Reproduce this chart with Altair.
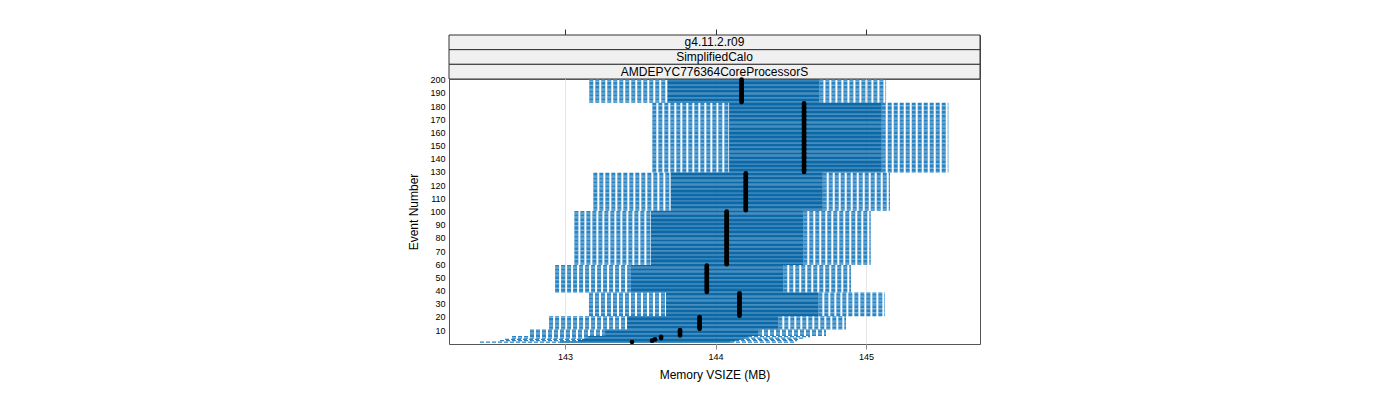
import altair as alt
import pandas as pd

# ---- data (Memory VSIZE in MB) ----
# blocks of consecutive events sharing the same summary values
block_first = [1, 2, 3, 4, 5, 6, 11, 21, 39, 60, 101, 130, 183]
block_last = [1, 2, 3, 4, 5, 10, 20, 38, 59, 100, 129, 182, 200]
whisker_low = [142.435, 142.568, 142.601, 142.648, 142.648, 142.767, 142.894,
               143.159, 142.934, 143.062, 143.188, 143.580, 143.161]
box_low = [142.967, 143.086, 143.113, 143.133, 143.153, 143.266, 143.412,
           143.671, 143.437, 143.571, 143.702, 144.090, 143.680]
median = [143.445, 143.578, 143.598, 143.638, 143.638, 143.764, 143.894,
          144.159, 143.942, 144.074, 144.201, 144.588, 144.173]
box_high = [144.096, 144.130, 144.163, 144.196, 144.216, 144.282, 144.417,
            144.683, 144.450, 144.583, 144.712, 145.104, 144.690]
whisker_high = [144.528, 144.541, 144.561, 144.595, 144.628, 144.734, 144.867,
                145.126, 144.900, 145.031, 145.159, 145.547, 145.133]

strip_labels = ["g4.11.2.r09", "SimplifiedCalo", "AMDEPYC776364CoreProcessorS"]
x_ticks = [143, 144, 145]
y_ticks = list(range(10, 201, 10))
x_domain = [142.229, 145.757]
y_domain = [-0.5, 200.5]

rows = []
for i in range(len(block_first)):
    for ev in range(block_first[i], block_last[i] + 1):
        rows.append({"event": ev, "wlo": whisker_low[i], "q1": box_low[i],
                     "med": median[i], "q3": box_high[i], "whi": whisker_high[i]})
df = pd.DataFrame(rows)

W, H = 531, 265
FONT = "Liberation Sans"

xscale = alt.Scale(domain=x_domain, nice=False, zero=False)
yscale = alt.Scale(domain=y_domain, nice=False, zero=False)

x_axis = alt.Axis(values=x_ticks, format="d", title="Memory VSIZE (MB)", grid=True,
                  gridColor="#e6e6e6", domain=False, tickColor="#888888", tickSize=5,
                  labelFontSize=9, labelPadding=3, labelColor="black",
                  titleFontSize=12, titlePadding=8, titleFontWeight="normal",
                  titleColor="black")
y_axis = alt.Axis(values=y_ticks, title="Event Number", ticks=False, domain=False,
                  grid=False, labelFontSize=9, labelPadding=4, labelColor="black",
                  labelOverlap=False, labelFlush=False, labelBound=False,
                  titleFontSize=12, titlePadding=9, titleFontWeight="normal",
                  titleColor="black")

Y = alt.Y("event:Q", scale=yscale, axis=y_axis)
X = lambda f: alt.X(f, scale=xscale, axis=x_axis)

base = alt.Chart(df)
whisk_col = "#2a84c4"
left = base.mark_rule(color=whisk_col, strokeWidth=1.25, strokeDash=[4, 2]).encode(
    x=X("wlo:Q"), x2="q1:Q", y=Y
)
right = base.mark_rule(color=whisk_col, strokeWidth=1.25, strokeDash=[4, 2]).encode(
    x=X("q3:Q"), x2="whi:Q", y=Y
)
box = base.mark_rule(color="#0b69a8", strokeWidth=1.35).encode(
    x=X("q1:Q"), x2="q3:Q", y=Y
)
med = base.mark_circle(size=22, color="black", opacity=1).encode(
    x=X("med:Q"), y=Y
)
main = alt.layer(left, right, box, med).properties(width=W, height=H)

# ---- lattice-style strips ----
strip_df = pd.DataFrame({"strip": strip_labels})
top_axis = alt.Axis(orient="top", values=x_ticks, labels=False, domain=False,
                    grid=False, tickSize=6, tickColor="#333333", title=None)
strip_y = alt.Y("strip:N", sort=strip_labels,
                scale=alt.Scale(paddingInner=0, paddingOuter=0), axis=None)
rect = alt.Chart(strip_df).mark_rect(fill="#f0f0f0", stroke="#333333", strokeWidth=1).encode(
    x=alt.X(datum=x_domain[0], type="quantitative", scale=xscale, axis=top_axis),
    x2=alt.X2(datum=x_domain[1]),
    y=strip_y,
)
text = alt.Chart(strip_df).mark_text(fontSize=12, color="black", font=FONT).encode(
    x=alt.X(datum=(x_domain[0] + x_domain[1]) / 2, type="quantitative"),
    y=strip_y,
    text="strip:N",
)
strips = alt.layer(rect, text).properties(width=W, height=44)

chart = (
    alt.vconcat(strips, main, spacing=0, bounds="flush")
    .properties(padding={"left": 407, "top": 28, "right": 5, "bottom": 5})
    .configure(font=FONT)
    .configure_view(stroke="#555555")
    .configure_axisY(labelOverlap=False)
)

chart.save("out.html", embed_options={"renderer": "svg", "actions": False})
